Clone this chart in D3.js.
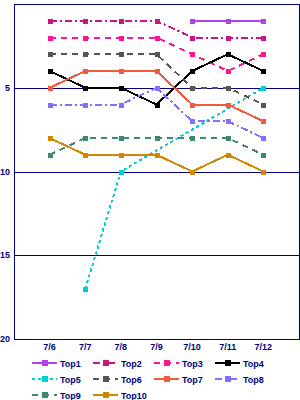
<!DOCTYPE html>
<html lang="en">
<head>
	<meta charset="utf-8">
	<title>Ranking chart</title>
	<script src="https://d3js.org/d3.v7.min.js"></script>
	<style>
		body { margin: 0; background: #fff; }
		text { font-family: "Liberation Sans", Arial, sans-serif; font-weight: bold; fill: #000080; }
	</style>
</head>
<body>
	<div id="chart"></div>
	<script>
		// dates on the x axis
		let dates = ["7/6", "7/7", "7/8", "7/9", "7/10", "7/11", "7/12"];
		let names = ["Top1", "Top2", "Top3", "Top4", "Top5", "Top6", "Top7", "Top8", "Top9", "Top10"];
		let yTicks = [5, 10, 15, 20];
		// rank per date, null = not ranked
		let top1 = [null, null, null, null, 1, 1, 1];
		let top2 = [1, 1, 1, 1, 2, 2, 2];
		let top3 = [2, 2, 2, 2, 3, 4, 3];
		let top4 = [4, 5, 5, 6, 4, 3, 4];
		let top5 = [null, 17, 10, null, null, null, 5];
		let top6 = [3, 3, 3, 3, 5, 5, 6];
		let top7 = [5, 4, 4, 4, 6, 6, 7];
		let top8 = [6, 6, 6, 5, 7, 7, 8];
		let top9 = [9, 8, 8, 8, 8, 8, 9];
		let top10 = [8, 9, 9, 9, 10, 9, 10];
		let series = [top1, top2, top3, top4, top5, top6, top7, top8, top9, top10];

		let colors = ["#b040f0", "#c71585", "#ff1493", "#000000", "#00ced1",
		              "#555555", "#f05a40", "#8470ff", "#3d8a6e", "#d08800"];
		let dashes = [null, "7,3,2,3", "6,5", null, "3,3", "6,5", null, "7,3,2,3", "6,5", null];

		let width = 300, height = 400;
		let plotL = 14, plotT = 4, plotR = 299, plotB = 339;

		let svg = d3.select("#chart").append("svg")
			.attr("width", width)
			.attr("height", height)
			.attr("shape-rendering", "crispEdges");

		let x = d3.scalePoint().domain(dates).range([plotL, plotR]).padding(1);
		let y = d3.scaleLinear().domain([0, 20]).range([plotT, plotB]);

		// grid lines
		svg.append("g").selectAll("line")
			.data(yTicks)
			.enter().append("line")
			.attr("x1", plotL).attr("x2", plotR)
			.attr("y1", d => Math.round(y(d)) + 0.5).attr("y2", d => Math.round(y(d)) + 0.5)
			.attr("stroke", "#000080");

		// frame
		svg.append("rect")
			.attr("x", plotL + 0.5).attr("y", plotT + 0.5)
			.attr("width", plotR - plotL).attr("height", plotB - plotT)
			.attr("fill", "none").attr("stroke", "#000080");

		// y labels
		svg.append("g").selectAll("text")
			.data(yTicks)
			.enter().append("text")
			.attr("x", plotL - 4).attr("y", d => y(d) + 3)
			.attr("text-anchor", "end")
			.attr("font-size", 9)
			.text(d => d);

		// x labels
		svg.append("g").selectAll("text")
			.data(dates)
			.enter().append("text")
			.attr("x", d => x(d)).attr("y", plotB + 11)
			.attr("text-anchor", "middle")
			.attr("font-size", 9)
			.text(d => d);

		let line = d3.line()
			.x(d => x(d.date))
			.y(d => y(d.v));

		series.forEach(function(s, i) {
			let pts = dates.map((d, j) => ({date: d, v: s[j]})).filter(p => p.v != null);
			let g = svg.append("g");
			g.append("path")
				.attr("d", line(pts))
				.attr("fill", "none")
				.attr("stroke", colors[i])
				.attr("stroke-width", 2)
				.attr("stroke-dasharray", dashes[i]);
			g.selectAll("rect")
				.data(pts)
				.enter().append("rect")
				.attr("x", p => Math.round(x(p.date)) - 2.5)
				.attr("y", p => Math.round(y(p.v)) - 2.5)
				.attr("width", 5).attr("height", 5)
				.attr("fill", colors[i]);
		});

		// legend
		let legend = svg.append("g").selectAll("g")
			.data(names)
			.enter().append("g")
			.attr("transform", (d, i) => "translate(" + (32 + (i % 4) * 61) + "," + (363 + Math.floor(i / 4) * 16) + ")");
		legend.append("line")
			.attr("x1", 0).attr("x2", 25)
			.attr("y1", 0).attr("y2", 0)
			.attr("stroke", (d, i) => colors[i])
			.attr("stroke-width", 2)
			.attr("stroke-dasharray", (d, i) => dashes[i]);
		legend.append("rect")
			.attr("x", 10).attr("y", -3)
			.attr("width", 6).attr("height", 6)
			.attr("fill", (d, i) => colors[i]);
		legend.append("text")
			.attr("x", 28).attr("y", 3.5)
			.attr("font-size", 9)
			.text(d => d);
	</script>
</body>
</html>
